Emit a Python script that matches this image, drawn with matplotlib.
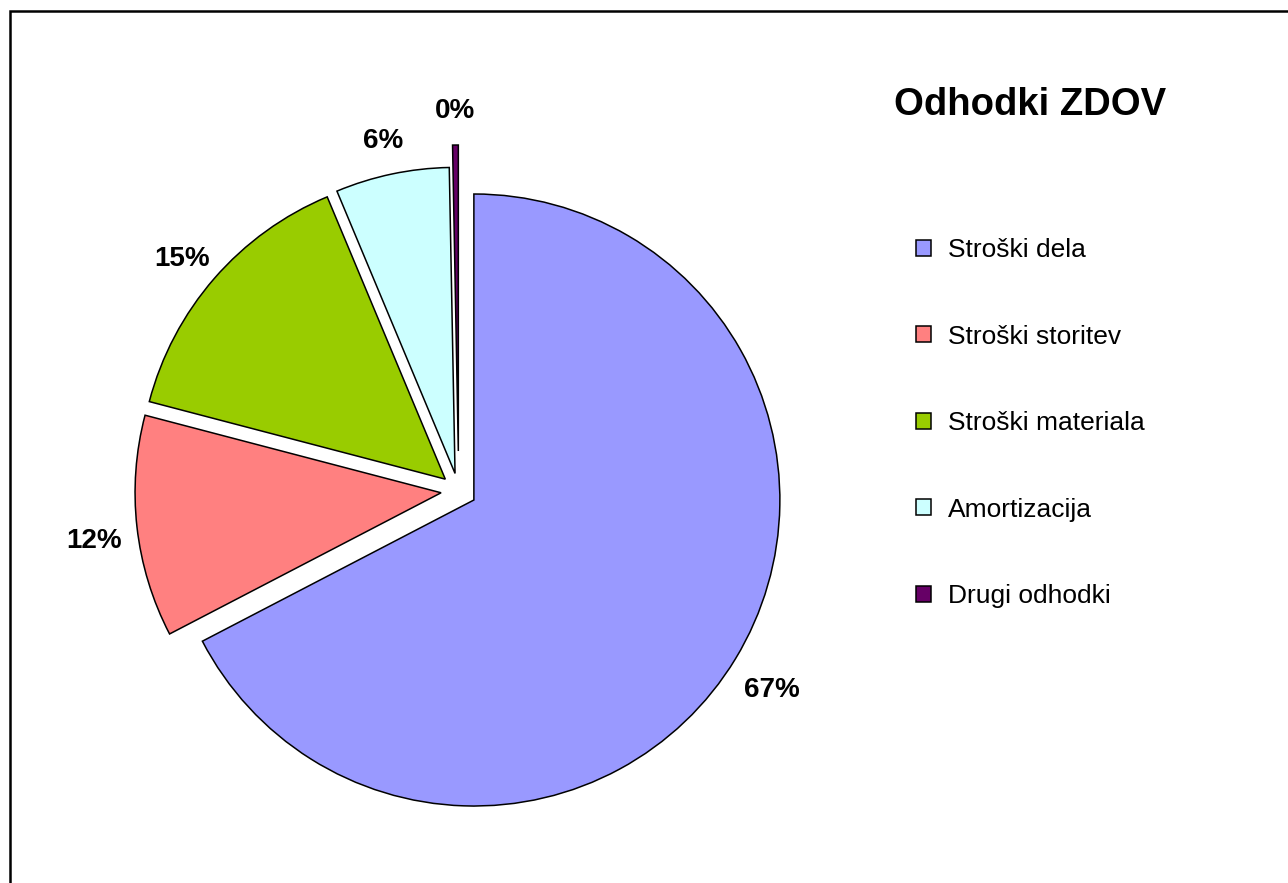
import matplotlib
matplotlib.use('Agg')
import matplotlib.pyplot as plt
from matplotlib.patches import Rectangle
from matplotlib.transforms import ScaledTranslation

plt.rcParams['font.family'] = ['Liberation Sans', 'DejaVu Sans']

# data
categories = ['Stroški dela', 'Stroški storitev', 'Stroški materiala', 'Amortizacija', 'Drugi odhodki']
shares = [67.3, 11.7, 14.6, 6.0, 0.3]
colors = ['#9999FF', '#FF8080', '#99CC00', '#CCFFFF', '#660066']
explode = [0.058, 0.058, 0.058, 0.058, 0.13]
title = 'Odhodki ZDOV'

W, H = 1288, 883
fig = plt.figure(figsize=(W / 100, H / 100), dpi=100)

# pie centre / radius in pixels
cx, cy, r = 458.7, 490.8, 306.0
half = 420.0
ax = fig.add_axes([(cx - half) / W, (H - cy - half) / H, 2 * half / W, 2 * half / H])

wedges, texts, autotexts = ax.pie(
    shares, colors=colors, explode=explode, startangle=90, counterclock=False,
    autopct='%.0f%%', pctdistance=1.14,
    wedgeprops=dict(edgecolor='black', linewidth=1.1),
    textprops=dict(fontsize=20, fontweight='bold', color='black'))
ax.set_xlim(-half / r, half / r)
ax.set_ylim(-half / r, half / r)
ax.set_aspect('equal')
ax.axis('off')

# nudge the percentage labels down a little
shift = ScaledTranslation(0, -0.09, fig.dpi_scale_trans)
for t in autotexts:
    t.set_transform(ax.transData + shift)

fig.text(1030 / W, 1 - 105 / H, title, ha='center', va='center',
         fontsize=27.5, fontweight='bold')

fig.legend(wedges, categories, loc='upper left',
           bbox_to_anchor=(916 / W, 1 - 238 / H), frameon=False,
           fontsize=19, handlelength=0.55, handleheight=0.55,
           handletextpad=0.65, labelspacing=2.37, borderpad=0, borderaxespad=0)

# frame of the chart area (right and bottom sides fall outside the picture)
fig.add_artist(Rectangle((10 / W, -0.1), 1.2, 1.1 - 11 / H, transform=fig.transFigure,
                         fill=False, edgecolor='black', linewidth=1.8))

fig.savefig('out.png', dpi=100)
